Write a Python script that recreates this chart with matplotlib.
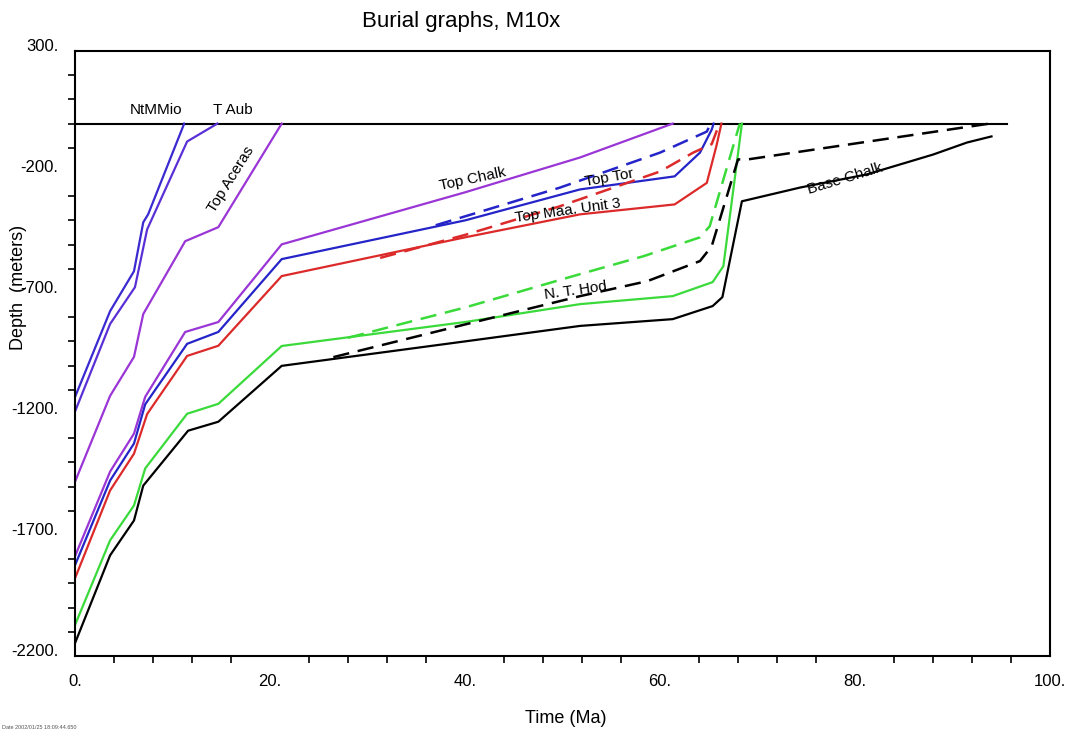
import matplotlib
matplotlib.use("Agg")
import matplotlib.pyplot as plt
import numpy as np
from matplotlib.ticker import FixedLocator

plt.rcParams['font.family'] = ['Liberation Sans', 'DejaVu Sans']

# burial curves: time (Ma) and depth (m)
ntmmio_t = [0, 3.6, 6.05, 7.0, 7.5, 11.2]
ntmmio_d = [-1130, -775, -610, -408, -375, 0]

taub_t = [0, 3.6, 6.15, 7.4, 11.5, 14.6]
taub_d = [-1190, -828, -676, -437, -74, 0]

aceras_t = [0, 3.6, 6.05, 7.0, 11.3, 14.7, 21.2]
aceras_d = [-1480, -1125, -964, -787, -486, -428, 0]

chalk_t = [0, 3.6, 6.05, 7.2, 11.3, 14.7, 21.2, 40.0, 51.8, 61.3]
chalk_d = [-1788, -1438, -1281, -1129, -861, -820, -499, -284, -140, 0]

tor_t = [0, 3.6, 6.05, 7.2, 11.5, 14.7, 21.2, 40.0, 51.8, 61.5, 64.1, 65.3, 65.5]
tor_d = [-1825, -1475, -1322, -1160, -910, -861, -560, -400, -272, -218, -120, -25, 0]
tor_dash_t = [37.0, 49.7, 60.0, 64.8, 65.2]
tor_dash_d = [-420, -265, -120, -33, 0]

maa_t = [0, 3.6, 6.05, 7.4, 11.5, 14.7, 21.2, 40.0, 51.8, 61.5, 64.8, 65.8, 66.3]
maa_d = [-1879, -1516, -1364, -1200, -960, -918, -630, -470, -375, -334, -245, -90, 0]
maa_dash_t = [31.3, 40.0, 49.7, 60.0, 63.4, 65.3, 66.1]
maa_dash_d = [-555, -460, -342, -198, -120, -85, 0]

hod_t = [0, 3.6, 6.05, 7.2, 11.5, 14.7, 21.2, 40.0, 51.8, 61.3, 65.4, 66.5, 68.4]
hod_d = [-2072, -1722, -1578, -1425, -1199, -1158, -919, -820, -746, -713, -655, -589, 0]
hod_dash_t = [28.0, 40.0, 51.8, 58.3, 64.1, 65.1, 68.0, 68.2]
hod_dash_d = [-885, -760, -622, -548, -470, -424, -25, 0]

base_t = [0, 3.6, 6.05, 7.0, 11.6, 14.7, 21.2, 40.0, 51.8, 61.3, 65.4, 66.4, 68.4,
          74.4, 81.2, 88.0, 91.5, 94.0]
base_d = [-2147, -1784, -1640, -1496, -1269, -1232, -1001, -900, -836, -808, -754, -717, -321,
          -264, -210, -128, -78, -53]
base_dash_t = [26.5, 40.0, 51.8, 58.7, 64.1, 65.3, 68.0, 69.0, 93.8]
base_dash_d = [-965, -830, -713, -651, -568, -507, -148, -148, 0]

surface_t = [0, 95.6]
surface_d = [0, 0]

purple = '#9a35d6'
blue = '#2424c8'
red = '#dc2a2a'
green = '#3ada3a'
dash = (6.5, 3.5)

fig = plt.figure(figsize=(10.8, 7.33), dpi=100)
ax = fig.add_axes([75/1080, 1-656/733, 975/1080, 605/733])

ax.plot(surface_t, surface_d, color='black', lw=1.5)
ax.plot(ntmmio_t, ntmmio_d, color='#3a2ad0', lw=1.6)
ax.plot(taub_t, taub_d, color='#5a30d6', lw=1.6)
ax.plot(aceras_t, aceras_d, color=purple, lw=1.6)
ax.plot(chalk_t, chalk_d, color=purple, lw=1.6)
ax.plot(tor_t, tor_d, color=blue, lw=1.6)
ax.plot(tor_dash_t, tor_dash_d, color=blue, lw=1.8, dashes=dash)
ax.plot(maa_t, maa_d, color=red, lw=1.6)
ax.plot(maa_dash_t, maa_dash_d, color=red, lw=1.8, dashes=dash)
ax.plot(hod_t, hod_d, color=green, lw=1.6)
ax.plot(hod_dash_t, hod_dash_d, color=green, lw=1.8, dashes=dash)
ax.plot(base_t, base_d, color='black', lw=1.6)
ax.plot(base_dash_t, base_dash_d, color='black', lw=1.8, dashes=dash)

labels = [
    ('NtMMio', 8.3, 55, 0),
    ('T Aub', 16.2, 55, 0),
    ('Top Aceras', 16.0, -230, 58),
    ('Top Chalk', 40.8, -230, 12),
    ('Top Tor', 54.8, -225, 10),
    ('Top Maa. Unit 3', 50.5, -360, 8),
    ('N. T. Hod', 51.3, -690, 8),
    ('Base Chalk', 79.0, -228, 17),
]
for txt, tx, ty, rot in labels:
    ax.text(tx, ty, txt, rotation=rot, fontsize=11, ha='center', va='center',
            rotation_mode='anchor')

ax.set_xlim(0, 100)
ax.set_ylim(-2200, 300)

xmaj = [0, 20, 40, 60, 80, 100]
ax.xaxis.set_major_locator(FixedLocator(xmaj))
ax.set_xticklabels([f'{v}.' for v in xmaj], fontsize=12)
ax.xaxis.set_minor_locator(FixedLocator([v for v in range(4, 100, 4) if v % 20 != 0]))
ax.tick_params(axis='x', which='major', length=0, pad=13)
ax.tick_params(axis='x', which='minor', length=5, width=1.2, direction='out')

ymaj = [300, -200, -700, -1200, -1700, -2200]
ax.yaxis.set_major_locator(FixedLocator(ymaj))
ax.set_yticklabels([f'{v}.' for v in ymaj], fontsize=12)
for lab in ax.get_yticklabels():
    lab.set_va('baseline')
ax.yaxis.set_minor_locator(FixedLocator([v for v in range(-2100, 300, 100) if (300 - v) % 500 != 0]))
ax.tick_params(axis='y', which='major', length=0, pad=12)
ax.tick_params(axis='y', which='minor', length=5, width=1.2, direction='out')

for sp in ax.spines.values():
    sp.set_linewidth(1.5)

ax.set_xlabel('Time (Ma)', fontsize=13)
ax.xaxis.set_label_coords(0.503, -0.09)
ax.set_ylabel('Depth  (meters)', fontsize=13)
ax.yaxis.set_label_coords(-0.049, 0.61)
fig.text(461/1080, 1-22/733, 'Burial graphs, M10x', fontsize=16, ha='center', va='center')
fig.text(0.002, 0.005, 'Date 2002/01/25 18:09:44.650', fontsize=4, color='#555555')

fig.savefig('out.png', dpi=100)
